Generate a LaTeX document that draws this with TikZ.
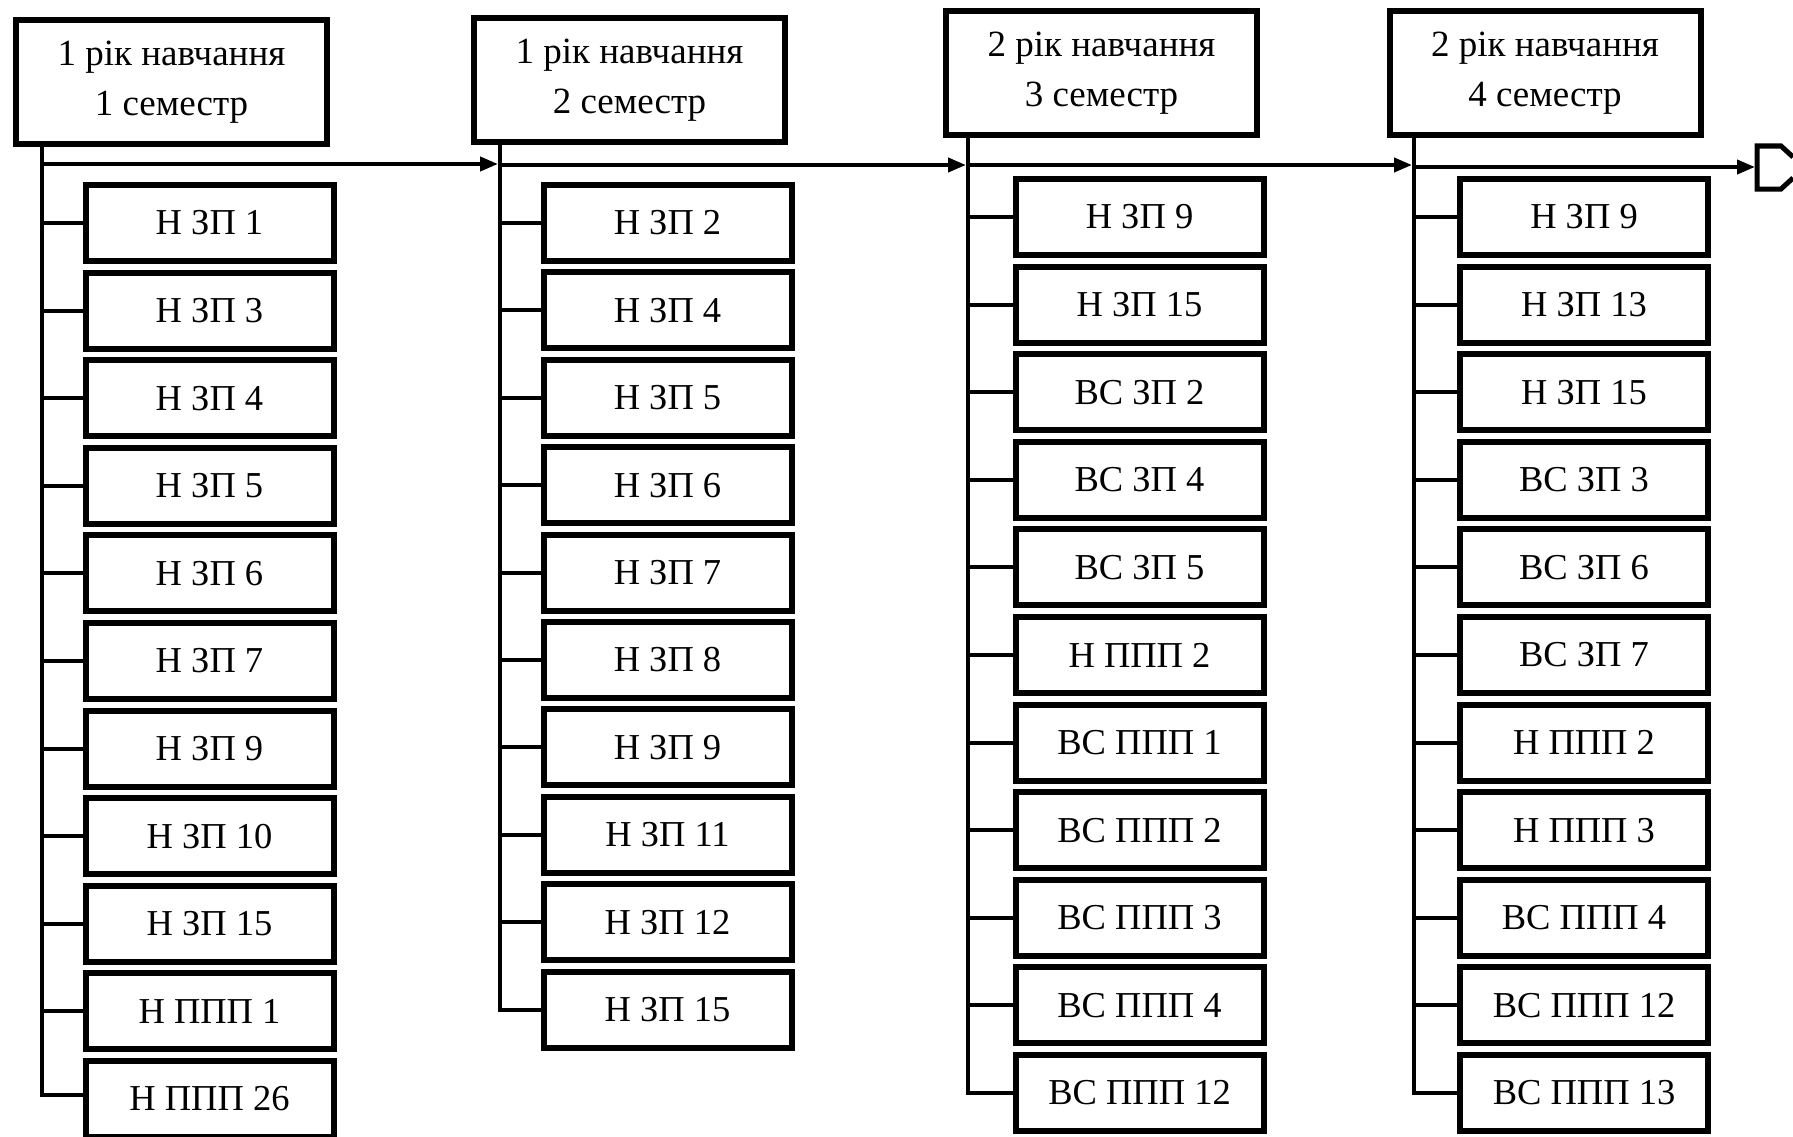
\documentclass[tikz,border=0pt]{standalone}
\usepackage{fontspec}
\setmainfont{Liberation Serif}
\usetikzlibrary{arrows.meta}
\begin{document}
\begin{tikzpicture}[x=1pt,y=-1pt,
  hdr/.style={draw,line width=6pt,minimum width=311pt,minimum height=124pt,inner sep=0pt,align=center,font=\fontsize{37}{50}\selectfont},
  itm/.style={draw,line width=6pt,minimum width=248pt,minimum height=76pt,inner sep=0pt,font=\fontsize{36.5}{40}\selectfont},
  conn/.style={line width=4pt},
  flow/.style={line width=4pt,-{Triangle[length=18pt,width=14pt]},shorten >=2pt}]
\useasboundingbox (0,0) rectangle (1793,1137);
\clip (0,0) rectangle (1793,1137);
\fill[white] (0,0) rectangle (1793,1137);

% headers
\node[hdr] (h1) at (171.5,82) {1 рік навчання\\1 семестр};
\node[hdr] (h2) at (629.5,80) {1 рік навчання\\2 семестр};
\node[hdr] (h3) at (1101.5,73.5) {2 рік навчання\\3 семестр};
\node[hdr] (h4) at (1545,73.5) {2 рік навчання\\4 семестр};

% column 1
\foreach \t [count=\i from 0] in {Н ЗП 1,Н ЗП 3,Н ЗП 4,Н ЗП 5,Н ЗП 6,Н ЗП 7,Н ЗП 9,Н ЗП 10,Н ЗП 15,Н ППП 1,Н ППП 26}
  \node[itm] (a\i) at (209.5,223+87.6*\i) {\t};
% column 2
\foreach \t [count=\i from 0] in {Н ЗП 2,Н ЗП 4,Н ЗП 5,Н ЗП 6,Н ЗП 7,Н ЗП 8,Н ЗП 9,Н ЗП 11,Н ЗП 12,Н ЗП 15}
  \node[itm] (b\i) at (667.5,223+87.4*\i) {\t};
% column 3
\foreach \t [count=\i from 0] in {Н ЗП 9,Н ЗП 15,ВС ЗП 2,ВС ЗП 4,ВС ЗП 5,Н ППП 2,ВС ППП 1,ВС ППП 2,ВС ППП 3,ВС ППП 4,ВС ППП 12}
  \node[itm] (c\i) at (1139.5,217+87.6*\i) {\t};
% column 4
\foreach \t [count=\i from 0] in {Н ЗП 9,Н ЗП 13,Н ЗП 15,ВС ЗП 3,ВС ЗП 6,ВС ЗП 7,Н ППП 2,Н ППП 3,ВС ППП 4,ВС ППП 12,ВС ППП 13}
  \node[itm] (d\i) at (1584,217+87.6*\i) {\t};

% trunks
\coordinate (t1) at (42,144);
\coordinate (t2) at (500,142);
\coordinate (t3) at (968,134);
\coordinate (t4) at (1414,134);
\draw[conn] (t1) |- ([yshift=4pt]a10.west);
\draw[conn] (t2) |- (b9.west);
\draw[conn] (t3) |- (c10.west);
\draw[conn] (t4) |- (d10.west);
\foreach \i in {0,...,9} \draw[conn] (t1 |- a\i.west) -- (a\i.west);
\foreach \i in {0,...,8} \draw[conn] (t2 |- b\i.west) -- (b\i.west);
\foreach \i in {0,...,9} \draw[conn] (t3 |- c\i.west) -- (c\i.west);
\foreach \i in {0,...,9} \draw[conn] (t4 |- d\i.west) -- (d\i.west);

% flow arrows
\coordinate (f1) at (42,164);
\coordinate (f2) at (500,165);
\coordinate (f3) at (968,165);
\coordinate (f4) at (1414,167);
\coordinate (fend) at (1757,167);
\draw[flow] (f1) -- (f1 -| f2);
\draw[flow] (f2) -- (f2 -| f3);
\draw[flow] (f3) -- (f3 -| f4);
\draw[flow] (f4) -- (fend);

% partial shape at right edge
\draw[line width=5pt,line join=miter] (1793,157) -- (1781,146) -- (1757,146) -- (1757,189) -- (1781,189) -- (1793,178);
\end{tikzpicture}
\end{document}
